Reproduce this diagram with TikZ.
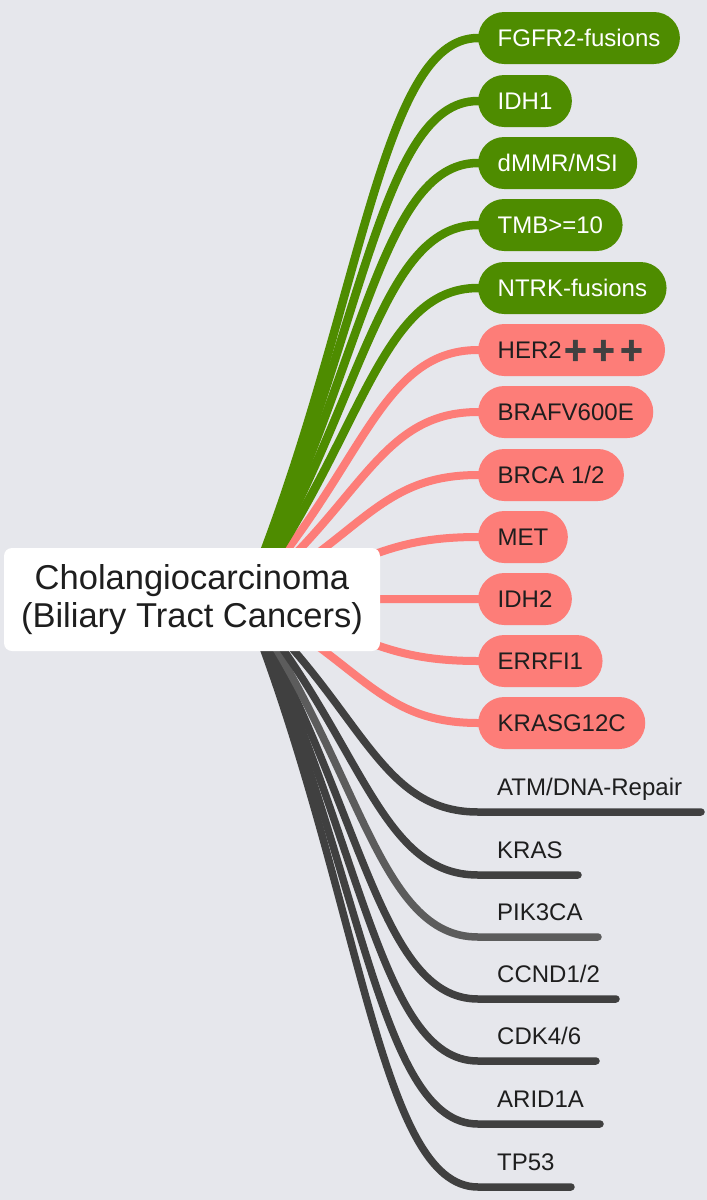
\documentclass[tikz,border=0pt]{standalone}
\usepackage{fontspec}
\setmainfont{Liberation Sans}
\newfontfamily\emojifont{Noto Emoji}
\usetikzlibrary{calc}
\definecolor{bgc}{RGB}{230,231,236}
\definecolor{grn}{RGB}{78,140,0}
\definecolor{rd}{RGB}{253,125,120}
\definecolor{dk}{RGB}{64,64,64}
\definecolor{dkl}{RGB}{92,92,92}
\definecolor{txt}{RGB}{30,30,30}
\pgfdeclarelayer{back}
\pgfdeclarelayer{lines}
\pgfsetlayers{back,lines,main}
\begin{document}
\begin{tikzpicture}[x=1pt,y=-1pt,
  pill/.style={anchor=west, rounded corners=26pt, minimum height=52pt, inner xsep=19.5pt, inner ysep=0pt, text height=17.5pt, text depth=0pt, font=\fontsize{24}{28}\selectfont},
  gpill/.style={pill, fill=grn, text=white},
  rpill/.style={pill, fill=rd, text=txt},
  glabel/.style={anchor=base west, inner sep=0pt, text=txt, font=\fontsize{24}{28}\selectfont},
  conn/.style={line width=8.5pt},
  gconn/.style={conn, draw=grn},
  rconn/.style={conn, draw=rd, line width=8pt},
  dconn/.style={line width=7.5pt, line cap=round, draw=dk},
  lconn/.style={dconn, draw=dkl}
]
\useasboundingbox (0,0) rectangle (707,1200);
\begin{pgfonlayer}{back}
  \fill[bgc] (0,0) rectangle (707,1200);
\end{pgfonlayer}

% central topic
\node[fill=white, rounded corners=8pt, minimum width=376pt, minimum height=103pt, inner sep=0pt,
      align=center, text=txt, font=\fontsize{34.5}{37.5}\selectfont] (c) at (192,599.5)
      {Cholangiocarcinoma\\(Biliary Tract Cancers)};
\coordinate (o) at (245,600);

% green branches
\node[gpill] (n1) at (478,38) {FGFR2-fusions};
\node[gpill] (n2) at (478,101) {IDH1};
\node[gpill] (n3) at (478,163) {dMMR/MSI};
\node[gpill] (n4) at (478,225) {TMB>=10};
\node[gpill] (n5) at (478,288) {NTRK-fusions};

% red branches
\node[rpill] (r1) at (478,350) {HER2{\emojifont\fontsize{22}{24}\selectfont\color{dk}➕➕➕}};
\node[rpill] (r2) at (478,412) {BRAFV600E};
\node[rpill] (r3) at (478,475) {BRCA 1/2};
\node[rpill] (r4) at (478,537) {MET};
\node[rpill] (r5) at (478,599) {IDH2};
\node[rpill] (r6) at (478,661) {ERRFI1};
\node[rpill] (r7) at (478,723) {KRASG12C};

% dark branches (labels above lines)
\node[glabel] (g1) at (497,795) {ATM/DNA-Repair};
\node[glabel] (g2) at (497,858) {KRAS};
\node[glabel] (g3) at (497,920) {PIK3CA};
\node[glabel] (g4) at (497,982) {CCND1/2};
\node[glabel] (g5) at (497,1044) {CDK4/6};
\node[glabel] (g6) at (497,1107) {ARID1A};
\node[glabel] (g7) at (497,1170) {TP53};
\coordinate (g1s) at (478,812);  \coordinate (g1e) at (701,812);
\coordinate (g2s) at (478,875);  \coordinate (g2e) at (578,875);
\coordinate (g3s) at (478,937);  \coordinate (g3e) at (598,937);
\coordinate (g4s) at (478,999);  \coordinate (g4e) at (616,999);
\coordinate (g5s) at (478,1061); \coordinate (g5e) at (596,1061);
\coordinate (g6s) at (478,1124); \coordinate (g6e) at (600,1124);
\coordinate (g7s) at (478,1187); \coordinate (g7e) at (571,1187);

\begin{pgfonlayer}{lines}
  \foreach \n in {r7,r6,r5,r4,r3,r2,r1}{
    \draw[rconn] (o) .. controls ($(o)!0.5!(\n.west)$) and ($(\n.west)+(-100,0)$) .. (\n.west) -- ++(10,0);
  }
  \foreach \n in {n5,n4,n3,n2,n1}{
    \draw[gconn] (o) .. controls ($(o)!0.5!(\n.west)$) and ($(\n.west)+(-100,0)$) .. (\n.west) -- ++(10,0);
  }
  \foreach \s/\e in {g7s/g7e,g6s/g6e,g5s/g5e,g4s/g4e}{
    \draw[dconn] (o) .. controls ($(o)!0.5!(\s)$) and ($(\s)+(-100,0)$) .. (\s) -- (\e);
  }
  \draw[lconn] (o) .. controls ($(o)!0.5!(g3s)$) and ($(g3s)+(-100,0)$) .. (g3s) -- (g3e);
  \foreach \s/\e in {g2s/g2e,g1s/g1e}{
    \draw[dconn] (o) .. controls ($(o)!0.5!(\s)$) and ($(\s)+(-100,0)$) .. (\s) -- (\e);
  }
\end{pgfonlayer}
\end{tikzpicture}
\end{document}
